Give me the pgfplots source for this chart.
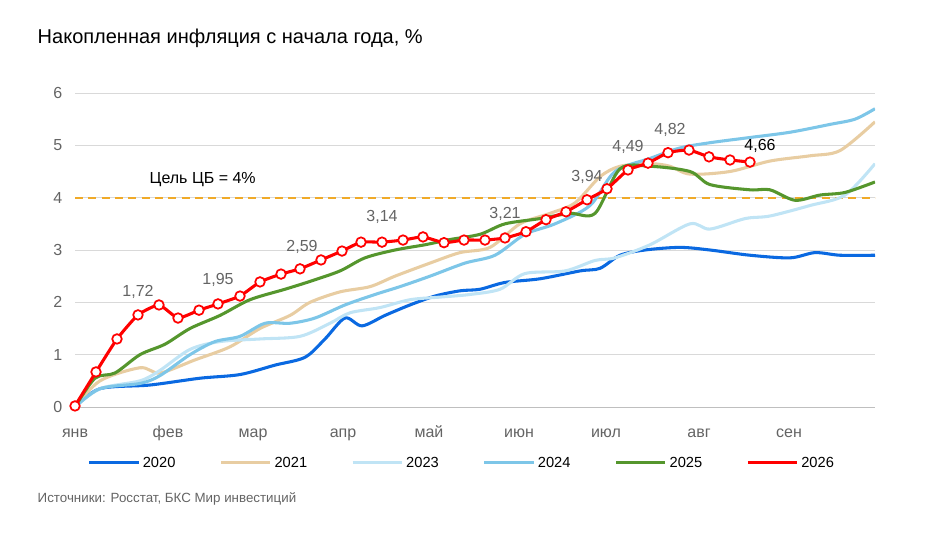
\documentclass[border=0pt]{standalone}
\usepackage{pgfplots}
\pgfplotsset{compat=1.18}
\usepackage{fontspec}
\setmainfont{Liberation Sans}
\definecolor{c20}{RGB}{10,105,225}
\definecolor{c21}{RGB}{232,205,162}
\definecolor{c23}{RGB}{192,228,245}
\definecolor{c24}{RGB}{125,198,232}
\definecolor{c25}{RGB}{85,150,45}
\definecolor{tk}{RGB}{100,100,100}
\definecolor{cbgoal}{RGB}{240,170,40}
\begin{document}
\begin{tikzpicture}
\useasboundingbox (0,0) rectangle (696.75pt,401.25pt);
\node[anchor=west,font=\fontsize{15}{18}\selectfont] at (24.75pt,372.75pt) {Накопленная инфляция с начала года, \%};
\node[anchor=west,font=\fontsize{10}{12}\selectfont,text=tk] at (24.75pt,27pt) {Источники: Росстат, БКС Мир инвестиций};
\begin{axis}[at={(56.25pt,96pt)},anchor=origin,
 scale only axis,width=600pt,height=235.5pt,
 xmin=0,xmax=800,ymin=0,ymax=6,
 axis x line*=bottom,
 axis line style={draw=gray!50},
 ymajorgrids, grid style={gray!30},
 ytick={0,...,6}, major tick length=0pt,
 xtick={0,93,178,268,354,444,531,624,714},
 xticklabels={янв,фев,мар,апр,май,июн,июл,авг,сен},
 ticklabel style={font=\fontsize{12}{14}\selectfont,text=tk},
 /pgf/number format/assume math mode=true,
 axis y line=left, y axis line style={draw=none},
 yticklabel style={xshift=-6pt},
 xticklabel style={anchor=base,yshift=-23pt},
 legend columns=6,
 legend style={at={(0.484,-0.178)},anchor=center,draw=none,font=\fontsize{11}{13}\selectfont,/tikz/every even column/.append style={column sep=31pt}},
 legend image code/.code={\draw[#1] (0pt,0pt) -- (37pt,0pt);},
 every axis plot/.append style={line width=2.3pt,smooth,tension=0.5}
]
\addplot[draw=cbgoal,line width=1.3pt,dash pattern=on 6pt off 4pt,forget plot,sharp plot] coordinates {(0,4)(800,4)};
\addplot[c20] coordinates {(0,0)(25,0.35)(75,0.42)(125,0.55)(165,0.62)(200,0.8)(230,0.95)(250,1.3)(270,1.7)(287,1.55)(310,1.75)(335,1.95)(360,2.12)(385,2.22)(405,2.25)(430,2.38)(465,2.45)(505,2.6)(525,2.65)(545,2.9)(570,3.0)(605,3.05)(635,3.0)(675,2.9)(715,2.85)(740,2.95)(765,2.9)(800,2.9)};
\addlegendentry{2020}
\addplot[c21] coordinates {(0,0)(25,0.5)(65,0.75)(85,0.65)(120,0.9)(155,1.15)(185,1.5)(215,1.75)(235,2.0)(265,2.2)(295,2.3)(320,2.5)(355,2.75)(385,2.95)(415,3.05)(445,3.5)(475,3.7)(500,3.9)(525,4.4)(545,4.6)(575,4.65)(595,4.6)(615,4.45)(655,4.5)(695,4.7)(735,4.8)(765,4.9)(800,5.45)};
\addlegendentry{2021}
\addplot[c23] coordinates {(0,0)(25,0.35)(65,0.5)(85,0.7)(115,1.1)(145,1.25)(185,1.3)(225,1.35)(255,1.6)(275,1.8)(305,1.9)(335,2.05)(365,2.1)(395,2.15)(425,2.25)(450,2.55)(490,2.6)(520,2.8)(540,2.85)(575,3.1)(615,3.5)(635,3.4)(670,3.6)(695,3.65)(735,3.85)(770,4.05)(800,4.65)};
\addlegendentry{2023}
\addplot[c24] coordinates {(0,0)(25,0.35)(65,0.45)(85,0.6)(115,1.0)(140,1.25)(165,1.35)(190,1.6)(215,1.6)(240,1.7)(270,1.95)(300,2.15)(325,2.3)(355,2.5)(390,2.75)(420,2.9)(450,3.3)(480,3.5)(515,3.85)(540,4.5)(575,4.75)(605,4.95)(635,5.05)(675,5.15)(715,5.25)(755,5.4)(780,5.5)(800,5.7)};
\addlegendentry{2024}
\addplot[c25] coordinates {(0,0)(20,0.55)(40,0.65)(65,1.0)(90,1.2)(115,1.5)(145,1.75)(175,2.05)(210,2.25)(235,2.4)(265,2.6)(290,2.85)(320,3.0)(350,3.1)(375,3.2)(405,3.3)(430,3.5)(465,3.6)(495,3.7)(520,3.7)(545,4.55)(575,4.6)(615,4.5)(635,4.25)(675,4.15)(695,4.15)(720,3.95)(745,4.05)(770,4.1)(800,4.3)};
\addlegendentry{2025}
\addplot[red,mark=*,mark size=3.6pt,mark options={fill=white,line width=1.3pt},tension=0.3] coordinates {(0,0.02)(21,0.67)(42,1.30)(63,1.76)(84,1.95)(103,1.70)(124,1.85)(143,1.97)(165,2.12)(185,2.39)(206,2.54)(225,2.64)(246,2.81)(267,2.98)(286,3.15)(307,3.15)(328,3.19)(348,3.25)(369,3.14)(389,3.19)(410,3.19)(430,3.23)(451,3.35)(471,3.58)(491,3.73)(512,3.96)(532,4.17)(553,4.53)(573,4.66)(593,4.86)(614,4.91)(634,4.78)(655,4.72)(675,4.68)};
\addlegendentry{2026}
\node[anchor=west,font=\fontsize{12}{14}\selectfont] at (axis cs:70,4.35) {Цель ЦБ = 4\%};
\begin{scope}[font=\fontsize{12}{14}\selectfont,text=tk]
\node at (axis cs:63,2.2) {1,72};
\node at (axis cs:143,2.42) {1,95};
\node at (axis cs:227,3.06) {2,59};
\node at (axis cs:307,3.63) {3,14};
\node at (axis cs:430,3.69) {3,21};
\node at (axis cs:512,4.4) {3,94};
\node at (axis cs:553,4.97) {4,49};
\node at (axis cs:595,5.3) {4,82};
\node[text=black] at (axis cs:685,4.99) {4,66};
\end{scope}
\end{axis}
\end{tikzpicture}
\end{document}
